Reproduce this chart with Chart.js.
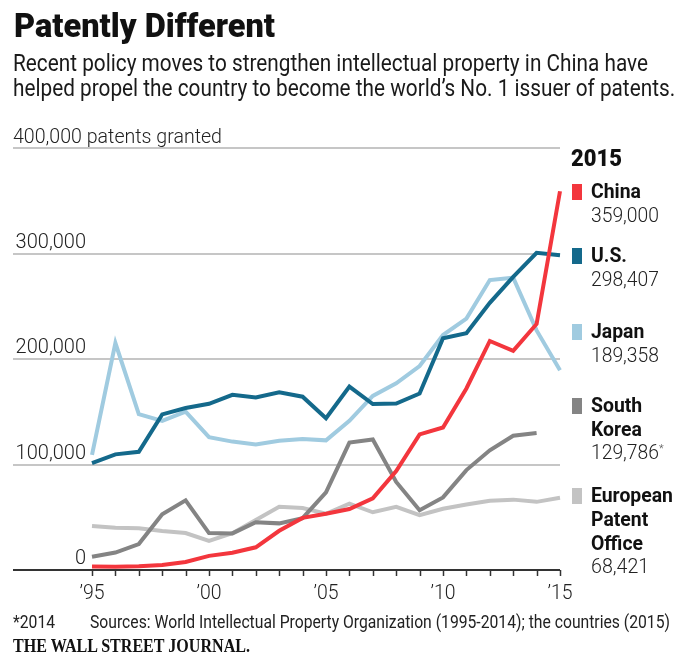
<!DOCTYPE html>
<html>
<head>
<meta charset="utf-8">
<script src="https://cdn.jsdelivr.net/npm/chart.js@4"></script>
<style>
  html, body { margin: 0; padding: 0; background: #fff; }
  #wrap { position: relative; width: 700px; height: 664px; overflow: hidden; }
  #chart { position: absolute; left: 0; top: 0; }
  .t { position: absolute; white-space: nowrap; line-height: 1; color: #111; transform-origin: left top; }
  .rob { font-family: Roboto, "Liberation Sans", sans-serif; }
  .sans { font-family: "Liberation Sans", Arial, sans-serif; }
  .serif { font-family: "Liberation Serif", "DejaVu Serif", serif; }
  .sq { position: absolute; width: 10px; height: 16px; }
</style>
</head>
<body>
<div id="wrap">
  <canvas id="chart" width="700" height="664"></canvas>
</div>
<script>
// datos (patentes concedidas por año)
const years = ['1995','1996','1997','1998','1999','2000','2001','2002','2003','2004','2005',
               '2006','2007','2008','2009','2010','2011','2012','2013','2014','2015'];
const china  = [3400, 3000, 3500, 4700, 7600, 13400, 16300, 21500, 37200, 49400, 53300,
                57800, 67900, 93700, 128500, 135100, 172100, 217100, 207700, 233200, 359000];
const us     = [101400, 109600, 112000, 147500, 153500, 157500, 166000, 163500, 168500, 164300, 143800,
                173800, 157300, 157800, 167300, 219600, 224500, 253200, 277800, 300700, 298407];
const japan  = [109100, 215100, 147700, 141400, 150100, 125900, 121700, 119000, 122500, 124200, 122900,
                141400, 165000, 177000, 193300, 222700, 238300, 274800, 277100, 227100, 189358];
const korea  = [12500, 16500, 24600, 52900, 66000, 35000, 34700, 45300, 44200, 49100, 73500,
                120800, 123700, 83500, 56700, 68800, 94700, 113500, 127300, 129786, null];
const epo    = [41800, 40000, 39600, 37000, 35000, 27500, 34900, 47400, 59900, 58700, 53300,
                62800, 54700, 59800, 51900, 58100, 62100, 65700, 66700, 64600, 68421];

const yTicks = [0, 100000, 200000, 300000, 400000];
const yTickLabels = ['0', '100,000', '200,000', '300,000', '400,000 patents granted'];
const xTickYears = ['1995', '2000', '2005', '2010', '2015'];
const xTickLabels = ['\u201995', '\u201900', '\u201905', '\u201910', '\u201915'];

const seriesNames = [['China'], ['U.S.'], ['Japan'], ['South', 'Korea'], ['European', 'Patent', 'Office']];
const latestValues = ['359,000', '298,407', '189,358', '129,786', '68,421'];
const colors = ['#f3363d', '#14698b', '#a0cbe0', '#848484', '#c3c3c3'];

const wrap = document.getElementById('wrap');

// texto html colocado por linea base (ascent ~0.85 del tamaño con line-height 1)
function addText(txt, x, base, size, cls, extra) {
  const d = document.createElement('div');
  d.className = 't ' + cls;
  d.textContent = txt;
  d.style.left = x + 'px';
  d.style.top = (base - 0.85 * size) + 'px';
  d.style.fontSize = size + 'px';
  if (extra) Object.assign(d.style, extra);
  wrap.appendChild(d);
  return d;
}

// estrecha el texto horizontalmente hasta el ancho deseado
function squeeze(el, factor) {
  el.style.transform = 'scaleX(' + factor + ')';
}
function fitWidth(el, w) {
  const cur = el.getBoundingClientRect().width;
  if (cur > 0) squeeze(el, w / cur);
  return w / cur;
}

// titulo y subtitulo
const title = addText('Patently Different', 14, 37, 34, 'rob', { fontWeight: 900 });
fitWidth(title, 261);
const sub1 = addText('Recent policy moves to strengthen intellectual property in China have', 13, 72, 23.5, 'rob', { color: '#1a1a1a' });
const subK = fitWidth(sub1, 635);
const sub2 = addText('helped propel the country to become the world\u2019s No. 1 issuer of patents.', 13, 97, 23.5, 'rob', { color: '#1a1a1a' });
squeeze(sub2, subK);

// leyenda
const yr = addText('2015', 571, 167, 23, 'rob', { fontWeight: 900 });
fitWidth(yr, 51);
const legendBase = [199, 263, 339, 413, 503];
let labelK = null;
const labelEls = [];
seriesNames.forEach((lines, i) => {
  const sq = document.createElement('div');
  sq.className = 'sq';
  sq.style.left = '572px';
  sq.style.top = (legendBase[i] - 15) + 'px';
  sq.style.background = colors[i];
  wrap.appendChild(sq);
  lines.forEach((ln, j) => {
    const el = addText(ln, 591, legendBase[i] + j * 24, 21, 'rob', { fontWeight: 'bold' });
    labelEls.push(el);
    if (ln === 'European') labelK = 82 / el.getBoundingClientRect().width;
  });
  const v = addText(latestValues[i], 591, legendBase[i] + lines.length * 23.5, 19.5, 'rob', { color: '#222', fontWeight: 300 });
  fitWidth(v, latestValues[i].length * 9.7);
  if (i === 3) {
    const star = document.createElement('span');
    star.textContent = '*';
    star.style.fontSize = '11px';
    star.style.verticalAlign = '7px';
    star.style.color = '#555';
    v.appendChild(star);
  }
});
labelEls.forEach(el => squeeze(el, labelK));

// pie
const foot1 = addText('*2014', 13, 629, 17.5, 'rob', { color: '#222' });
const src = addText('Sources: World Intellectual Property Organization (1995-2014); the countries (2015)', 90, 629, 17.5, 'rob', { color: '#222' });
const srcK = fitWidth(src, 580);
squeeze(foot1, srcK);
const wsj = addText('THE WALL STREET JOURNAL.', 13, 652, 19, 'serif', { fontWeight: 'bold', color: '#111' });
fitWidth(wsj, 237);

// ejes dibujados a mano sobre las escalas de Chart.js
const axesPlugin = {
  id: 'wsjAxes',
  beforeDatasetsDraw(chart) {
    const { ctx, chartArea, scales } = chart;
    const x = scales.x, y = scales.y;
    const gridLeft = 13;
    ctx.save();
    yTicks.forEach((v, i) => {
      const py = Math.round(y.getPixelForValue(v));
      ctx.beginPath();
      ctx.strokeStyle = v === 0 ? '#333' : '#c6c6c6';
      ctx.lineWidth = 2;
      ctx.moveTo(gridLeft, py);
      ctx.lineTo(chartArea.right, py);
      ctx.stroke();
      ctx.fillStyle = '#222';
      ctx.font = '300 20px Roboto, "Liberation Sans", sans-serif';
      ctx.textBaseline = 'alphabetic';
      if (i === yTicks.length - 1) {
        ctx.textAlign = 'left';
        ctx.fillText(yTickLabels[i], gridLeft, py - 5, 209);
      } else {
        ctx.textAlign = 'right';
        ctx.fillText(yTickLabels[i], 86, py - 6, 73);
      }
    });
    const y0 = Math.round(y.getPixelForValue(0));
    ctx.strokeStyle = '#333';
    ctx.lineWidth = 1.5;
    years.forEach((yr, i) => {
      const px = Math.round(x.getPixelForValue(i)) + 0.5;
      ctx.beginPath();
      ctx.moveTo(px, y0);
      ctx.lineTo(px, y0 + 6);
      ctx.stroke();
    });
    ctx.fillStyle = '#222';
    ctx.textAlign = 'center';
    ctx.font = '300 20px Roboto, "Liberation Sans", sans-serif';
    xTickYears.forEach((yr, i) => {
      const px = x.getPixelForValue(years.indexOf(yr));
      ctx.fillText(xTickLabels[i], px, 599, 25);
    });
    ctx.restore();
  }
};

function ds(data, color) {
  return { data: data, borderColor: color, borderWidth: 4, pointRadius: 0, fill: false, tension: 0, spanGaps: false, borderJoinStyle: 'miter' };
}

new Chart(document.getElementById('chart').getContext('2d'), {
  type: 'line',
  data: {
    labels: years,
    // el primero se dibuja encima
    datasets: [ds(china, colors[0]), ds(us, colors[1]), ds(japan, colors[2]), ds(korea, colors[3]), ds(epo, colors[4])]
  },
  options: {
    responsive: false,
    animation: false,
    layout: { padding: { left: 92, right: 140, top: 148, bottom: 94 } },
    plugins: { legend: { display: false }, tooltip: { enabled: false } },
    scales: {
      x: { type: 'category', display: false, offset: false },
      y: { display: false, min: 0, max: 400000 }
    }
  },
  plugins: [axesPlugin]
});
</script>
</body>
</html>
